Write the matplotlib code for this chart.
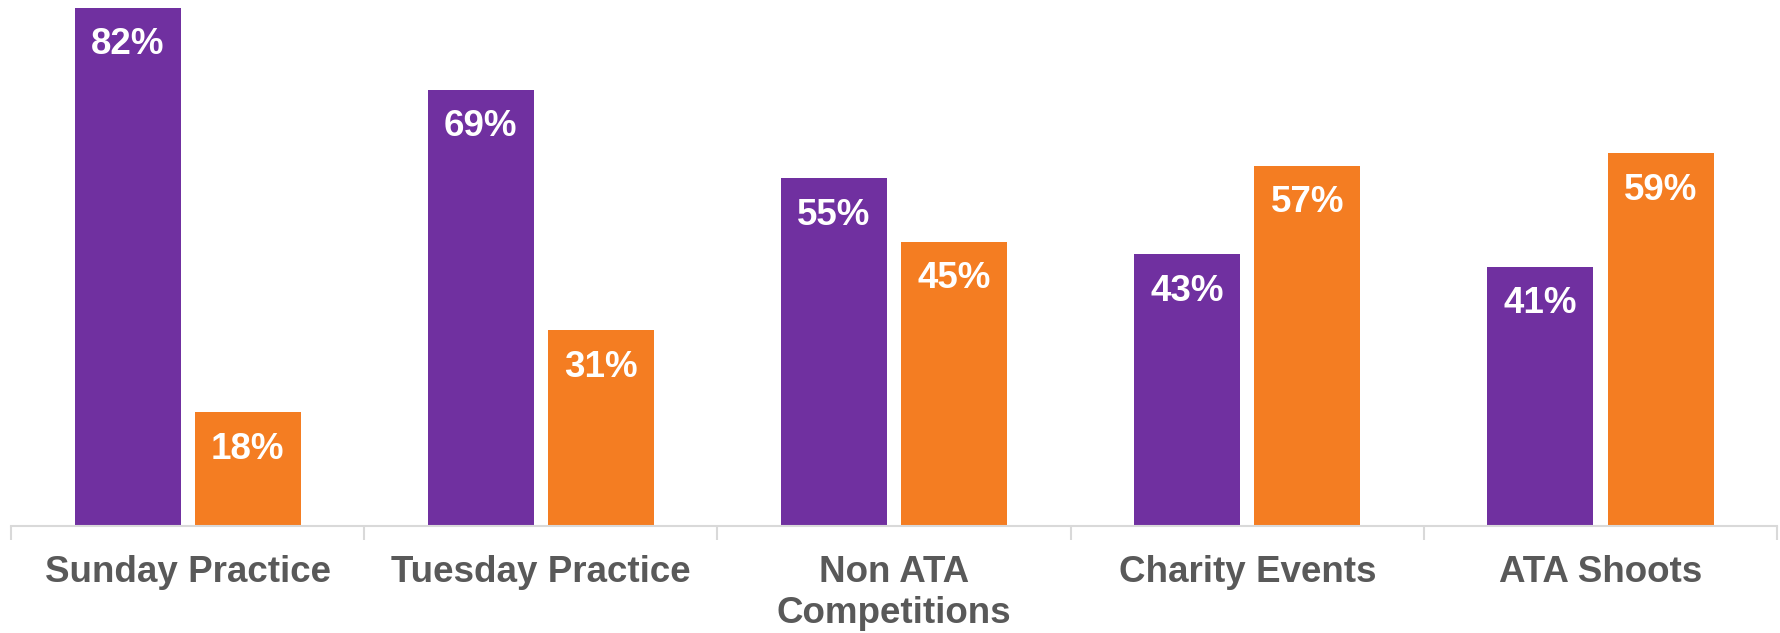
import numpy as np
import matplotlib
matplotlib.use("Agg")
import matplotlib.pyplot as plt

# ----------------------------
# Datos
# ----------------------------
categorias = ["Sunday Practice", "Tuesday Practice", "Non ATA\nCompetitions",
              "Charity Events", "ATA Shoots"]
serie_morada = [82, 69, 55, 43, 41]
serie_naranja = [18, 31, 45, 57, 59]

MORADO = "#7030A0"
NARANJA = "#F47D22"
GRIS_TEXTO = "#595959"
GRIS_EJE = "#D9D9D9"

plt.rcParams["font.family"] = ["Liberation Sans", "DejaVu Sans"]

fig = plt.figure(figsize=(17.81, 6.33), dpi=100)
ax = fig.add_axes([0.0062, 0.169, 0.9916, 0.831])

x = np.arange(len(categorias))
ancho = 0.3
desp = 0.17

barras_m = ax.bar(x - desp, serie_morada, ancho, color=MORADO)
barras_n = ax.bar(x + desp, serie_naranja, ancho, color=NARANJA)

for barras, valores in [(barras_m, serie_morada), (barras_n, serie_naranja)]:
    for b, v in zip(barras, valores):
        ax.annotate(f"{v}%", (b.get_x() + b.get_width() / 2, v),
                    xytext=(0, -37), textcoords="offset pixels",
                    ha="center", va="center", color="white",
                    fontsize=26.5, fontweight="bold")

ax.set_xlim(-0.5, len(categorias) - 0.5)
ax.set_ylim(0, 83.2)

for s in ["top", "right", "left"]:
    ax.spines[s].set_visible(False)
ax.spines["bottom"].set_color(GRIS_EJE)
ax.spines["bottom"].set_linewidth(1.5)
ax.set_yticks([])

# etiquetas de categoría
ax.set_xticks(x)
ax.set_xticklabels(categorias, fontsize=26.5, fontweight="bold", color=GRIS_TEXTO,
                   linespacing=1.2, va="top")
ax.tick_params(axis="x", length=0, pad=21)

# marcas entre categorías
ax.set_xticks(np.arange(len(categorias) + 1) - 0.5, minor=True)
ax.tick_params(axis="x", which="minor", length=10, width=1.5, color=GRIS_EJE)

fig.savefig("out.png", dpi=100)
